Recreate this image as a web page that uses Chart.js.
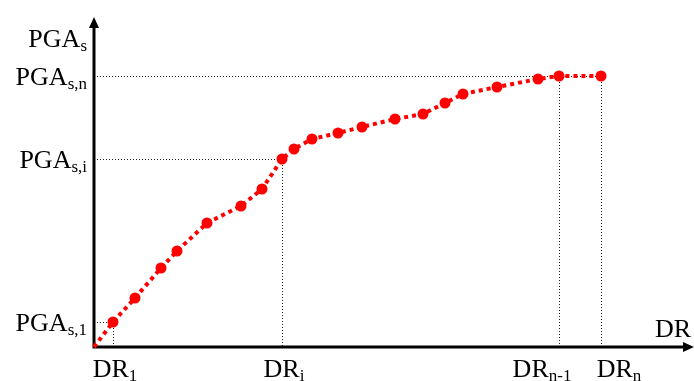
<!DOCTYPE html>
<html>
<head>
<meta charset="utf-8">
<script src="https://cdn.jsdelivr.net/npm/chart.js@4/dist/chart.umd.min.js"></script>
<style>
  html, body { margin: 0; padding: 0; background: #fff; }
  #wrap { width: 694px; height: 381px; position: relative; }
</style>
</head>
<body>
<div id="wrap"><canvas id="pgaChart"></canvas></div>
<script>
// Curve (arbitrary units: DR along x, PGA_s along y)
const dr  = [0, 19, 41, 67, 83, 113, 147, 168, 188, 200, 218, 244, 268, 301, 329, 351, 369, 403, 444, 465, 507];
const pga = [0, 25, 49, 79, 96, 124, 141, 158, 188, 198, 208, 214, 220, 228, 233, 244, 253, 260, 268, 271, 271];

// Marked points: index into the curve, with their axis labels
const markIndex  = [1, 8, 19, 20];
const xMarkMain  = ['DR', 'DR', 'DR', 'DR'];
const xMarkSub   = ['1', 'i', 'n-1', 'n'];
const yMarkIndex = [1, 8, 20];
const yMarkMain  = ['PGA', 'PGA', 'PGA'];
const yMarkSub   = ['s,1', 's,i', 's,n'];

const xTitle = 'DR';
const yTitle = ['PGA', 's'];

const FONT = '"Liberation Serif", "Times New Roman", serif';

// text with a lowered, smaller subscript
function drawSub(ctx, main, sub, x, y, align) {
    ctx.font = '26px ' + FONT;
    const w1 = ctx.measureText(main).width;
    ctx.font = '17px ' + FONT;
    const w2 = ctx.measureText(sub).width;
    let left = x;
    if (align === 'right') left = x - w1 - w2;
    if (align === 'center') left = x - (w1 + w2) / 2;
    ctx.textAlign = 'left';
    ctx.textBaseline = 'alphabetic';
    ctx.fillStyle = '#000';
    ctx.font = '26px ' + FONT;
    ctx.fillText(main, left, y);
    ctx.font = '17px ' + FONT;
    ctx.fillText(sub, left + w1, y + 4);
}

const sketchPlugin = {
    id: 'sketch',
    beforeDatasetsDraw(chart) {
        const { ctx, chartArea, scales: { x, y } } = chart;
        const x0 = x.getPixelForValue(0);
        const y0 = y.getPixelForValue(0);

        // dotted guide lines
        ctx.save();
        ctx.strokeStyle = '#222';
        ctx.lineWidth = 1;
        ctx.setLineDash([1, 2]);
        yMarkIndex.forEach(i => {
            const py = Math.round(y.getPixelForValue(pga[i])) + 0.5;
            ctx.beginPath();
            ctx.moveTo(x0, py);
            ctx.lineTo(x.getPixelForValue(dr[i]), py);
            ctx.stroke();
        });
        markIndex.forEach(i => {
            const px = Math.round(x.getPixelForValue(dr[i])) + 0.5;
            ctx.beginPath();
            ctx.moveTo(px, y.getPixelForValue(pga[i]));
            ctx.lineTo(px, y0);
            ctx.stroke();
        });
        ctx.restore();

        // axes with arrow heads
        ctx.save();
        ctx.strokeStyle = '#000';
        ctx.fillStyle = '#000';
        ctx.lineWidth = 3;
        ctx.beginPath();
        ctx.moveTo(x0, y0);
        ctx.lineTo(x0, chartArea.top + 8);
        ctx.moveTo(x0 - 1.5, y0);
        ctx.lineTo(chartArea.right - 8, y0);
        ctx.stroke();
        ctx.beginPath();
        ctx.moveTo(x0, chartArea.top);
        ctx.lineTo(x0 - 5, chartArea.top + 11);
        ctx.lineTo(x0 + 5, chartArea.top + 11);
        ctx.closePath();
        ctx.fill();
        ctx.beginPath();
        ctx.moveTo(chartArea.right, y0);
        ctx.lineTo(chartArea.right - 11, y0 - 5);
        ctx.lineTo(chartArea.right - 11, y0 + 5);
        ctx.closePath();
        ctx.fill();
        ctx.restore();
    },
    afterDraw(chart) {
        const { ctx, chartArea, scales: { x, y } } = chart;
        const x0 = x.getPixelForValue(0);
        const y0 = y.getPixelForValue(0);
        ctx.save();

        // y labels, cap height centred on the guide line
        yMarkIndex.forEach((i, k) => {
            drawSub(ctx, yMarkMain[k], yMarkSub[k], x0 - 7, y.getPixelForValue(pga[i]) + 9, 'right');
        });
        // x labels, the last two pushed apart like the original
        const nudge = [2, 2, -17, 18];
        markIndex.forEach((i, k) => {
            drawSub(ctx, xMarkMain[k], xMarkSub[k], x.getPixelForValue(dr[i]) + nudge[k], y0 + 30, 'center');
        });

        // axis titles
        drawSub(ctx, yTitle[0], yTitle[1], x0 - 7, chartArea.top + 30, 'right');
        ctx.font = '26px ' + FONT;
        ctx.textAlign = 'right';
        ctx.fillText(xTitle, chartArea.right - 3, y0 - 10);
        ctx.restore();
    }
};

new Chart(document.getElementById('pgaChart'), {
    type: 'line',
    data: {
        datasets: [{
            data: dr.map((v, i) => ({ x: v, y: pga[i] })),
            borderColor: '#ff0000',
            backgroundColor: '#ff0000',
            borderWidth: 4,
            borderDash: [4, 4],
            tension: 0,
            pointRadius: dr.map((v, i) => (i === 0 ? 0 : 5.5)),
            pointBorderWidth: 0,
            clip: false
        }]
    },
    options: {
        responsive: true,
        maintainAspectRatio: false,
        animation: false,
        layout: {
            autoPadding: false,
            padding: { left: 94, right: 0, top: 17, bottom: 34 }
        },
        plugins: {
            legend: { display: false },
            tooltip: { enabled: false }
        },
        scales: {
            x: { type: 'linear', min: 0, max: 600, display: false },
            y: { type: 'linear', min: 0, max: 330, display: false }
        }
    },
    plugins: [sketchPlugin]
});
</script>
</body>
</html>
